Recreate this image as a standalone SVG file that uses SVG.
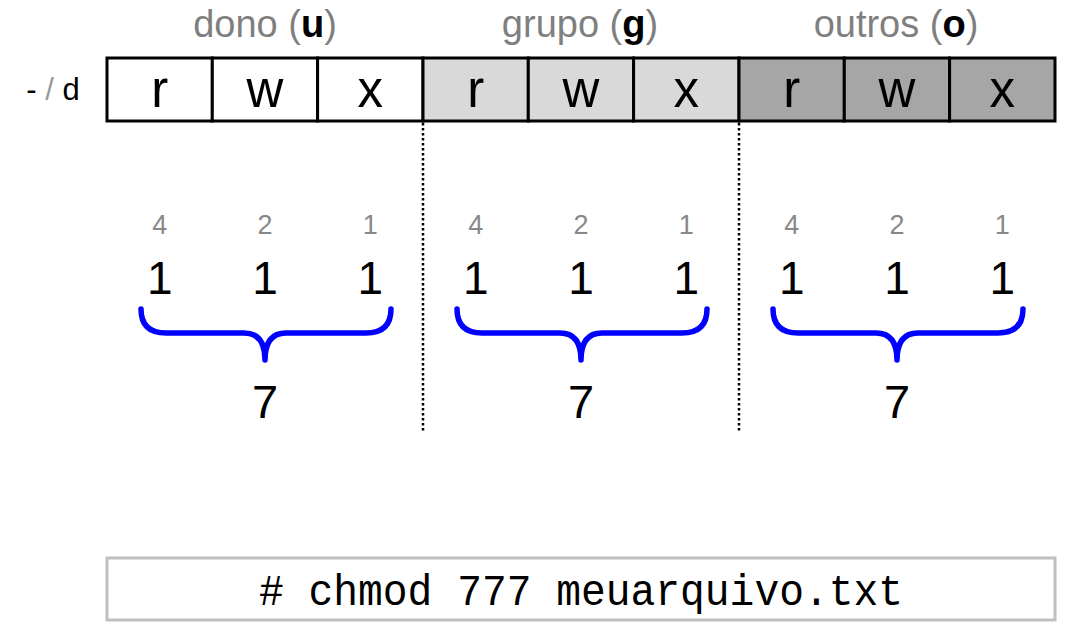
<svg xmlns="http://www.w3.org/2000/svg" width="1068" height="633" viewBox="0 0 1068 633">
<style>
  .title{font-family:"Liberation Sans",Arial,sans-serif;font-size:38px;fill:#7f7f7f;text-anchor:middle}
  .title tspan.b{font-weight:bold;fill:#000}
  .cell{stroke:#000;stroke-width:3}
  .letter{font-family:"Liberation Sans",Arial,sans-serif;font-size:51px;fill:#000;text-anchor:middle}
  .w{font-family:"Liberation Sans",Arial,sans-serif;font-size:27px;fill:#888;text-anchor:middle}
  .bit{font-family:"Liberation Sans",Arial,sans-serif;font-size:46px;fill:#000;text-anchor:middle}
  .sum{font-family:"Liberation Sans",Arial,sans-serif;font-size:47px;fill:#000;text-anchor:middle}
  .brace{fill:none;stroke:#0000ff;stroke-width:5.5;stroke-linecap:round;stroke-linejoin:round}
  .dot{stroke:#000;stroke-width:2.5;stroke-dasharray:2.5 2.5;fill:none}
</style>
<rect width="1068" height="633" fill="#fff"/>
<g id="type-label">
  <text x="53" y="100" font-family="'Liberation Sans',Arial,sans-serif" font-size="31" text-anchor="middle" fill="#000">- <tspan fill="#999">/</tspan> d</text>
</g>
<g id="dono">
  <text class="title" x="265" y="37">dono (<tspan class="b">u</tspan>)</text>
  <rect class="cell" x="107" y="58" width="105.3" height="63" fill="#fff"/>
  <rect class="cell" x="212.3" y="58" width="105.3" height="63" fill="#fff"/>
  <rect class="cell" x="317.6" y="58" width="105.4" height="63" fill="#fff"/>
  <text class="letter" x="159.7" y="107">r</text>
  <text class="letter" x="265" y="107">w</text>
  <text class="letter" x="370.3" y="107">x</text>
  <text class="w" x="159.7" y="234">4</text>
  <text class="w" x="265" y="234">2</text>
  <text class="w" x="370.3" y="234">1</text>
  <text class="bit" x="159.7" y="294">1</text>
  <text class="bit" x="265" y="294">1</text>
  <text class="bit" x="370.3" y="294">1</text>
  <path class="brace" d="M141,309 Q141,333 166,333 L244,333 Q265,333 265,360 Q265,333 286,333 L366,333 Q391,333 391,309"/>
  <text class="sum" x="265" y="418">7</text>
</g>
<g id="grupo">
  <text class="title" x="580" y="37">grupo (<tspan class="b">g</tspan>)</text>
  <rect class="cell" x="423" y="58" width="105.3" height="63" fill="#d9d9d9"/>
  <rect class="cell" x="528.3" y="58" width="105.3" height="63" fill="#d9d9d9"/>
  <rect class="cell" x="633.6" y="58" width="105.4" height="63" fill="#d9d9d9"/>
  <text class="letter" x="475.7" y="107">r</text>
  <text class="letter" x="581" y="107">w</text>
  <text class="letter" x="686.3" y="107">x</text>
  <text class="w" x="475.7" y="234">4</text>
  <text class="w" x="581" y="234">2</text>
  <text class="w" x="686.3" y="234">1</text>
  <text class="bit" x="475.7" y="294">1</text>
  <text class="bit" x="581" y="294">1</text>
  <text class="bit" x="686.3" y="294">1</text>
  <path class="brace" d="M457,309 Q457,333 482,333 L560,333 Q581,333 581,360 Q581,333 602,333 L682,333 Q707,333 707,309"/>
  <text class="sum" x="581" y="418">7</text>
</g>
<g id="outros">
  <text class="title" x="896" y="37">outros (<tspan class="b">o</tspan>)</text>
  <rect class="cell" x="739" y="58" width="105.3" height="63" fill="#a6a6a6"/>
  <rect class="cell" x="844.3" y="58" width="105.3" height="63" fill="#a6a6a6"/>
  <rect class="cell" x="949.6" y="58" width="105.4" height="63" fill="#a6a6a6"/>
  <text class="letter" x="791.7" y="107">r</text>
  <text class="letter" x="897" y="107">w</text>
  <text class="letter" x="1002.3" y="107">x</text>
  <text class="w" x="791.7" y="234">4</text>
  <text class="w" x="897" y="234">2</text>
  <text class="w" x="1002.3" y="234">1</text>
  <text class="bit" x="791.7" y="294">1</text>
  <text class="bit" x="897" y="294">1</text>
  <text class="bit" x="1002.3" y="294">1</text>
  <path class="brace" d="M773,309 Q773,333 798,333 L876,333 Q897,333 897,360 Q897,333 918,333 L998,333 Q1023,333 1023,309"/>
  <text class="sum" x="897" y="418">7</text>
</g>
<g id="connectors">
  <line class="dot" x1="423" y1="123" x2="423" y2="433"/>
  <line class="dot" x1="739" y1="123" x2="739" y2="433"/>
</g>
<g id="command">
  <rect x="107" y="558" width="948" height="62" fill="#fff" stroke="#c0c0c0" stroke-width="3"/>
  <text x="581" y="605" font-family="'Liberation Mono','Courier New',monospace" font-size="44" text-anchor="middle" fill="#000" textLength="644" lengthAdjust="spacingAndGlyphs"># chmod 777 meuarquivo.txt</text>
</g>
</svg>
